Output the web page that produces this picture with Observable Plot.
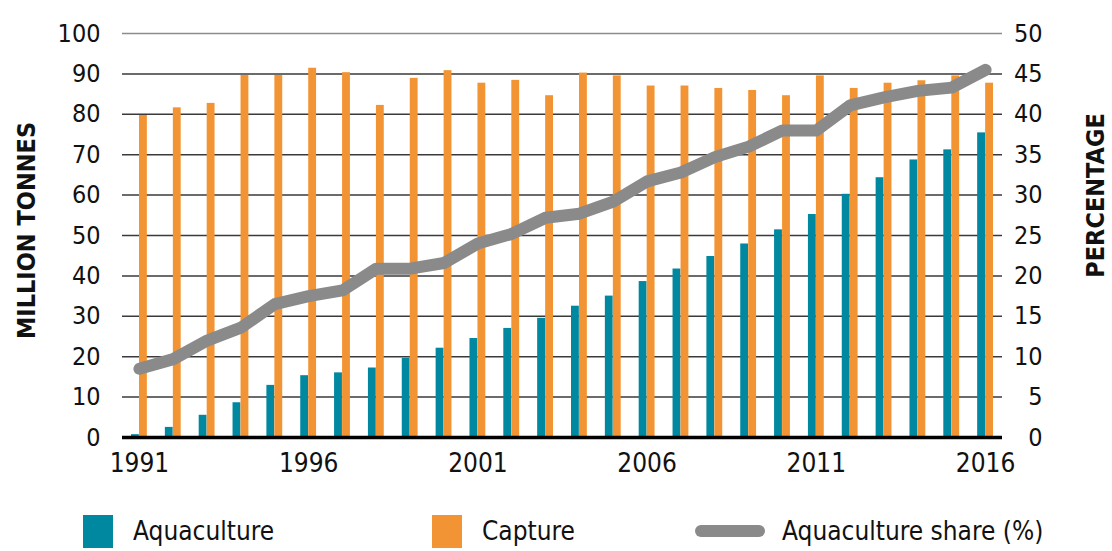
<!DOCTYPE html>
<html><head><meta charset="utf-8">
<script src="https://cdn.jsdelivr.net/npm/d3@7"></script>
<script src="https://cdn.jsdelivr.net/npm/@observablehq/plot@0.6"></script>
<style>
body{margin:0;background:#fff;font-family:"DejaVu Sans Condensed","Liberation Sans Narrow",sans-serif;}
#wrap{position:relative;width:1112px;height:551px;overflow:hidden;}
.leg{position:absolute;top:513px;height:36px;display:flex;align-items:center;font-size:26px;color:#111;white-space:nowrap;}
.sw{display:inline-block;width:30px;height:33px;margin-right:20px;}
.ln{display:inline-block;width:70px;height:12px;border-radius:6px;background:#8a8a8a;margin-right:17px;}
</style></head>
<body><div id="wrap"><div id="chart"></div>
<div class="leg" style="left:83px"><span class="sw" style="background:#0088a1"></span><span>Aquaculture</span></div>
<div class="leg" style="left:432px"><span class="sw" style="background:#f29433"></span><span>Capture</span></div>
<div class="leg" style="left:695px"><span class="ln"></span><span>Aquaculture share (%)</span></div>
</div>
<script>
const years = [1991,1992,1993,1994,1995,1996,1997,1998,1999,2000,2001,2002,2003,2004,2005,2006,2007,2008,2009,2010,2011,2012,2013,2014,2015,2016];
const aquaculture = [0.7,2.5,5.5,8.6,12.9,15.3,16.0,17.2,19.6,22.1,24.5,27.0,29.5,32.5,35.0,38.6,41.7,44.8,47.9,51.4,55.2,60.2,64.3,68.7,71.2,75.4];
const capture = [79.7,81.6,82.7,89.6,89.6,91.4,90.3,82.2,88.9,90.8,87.7,88.4,84.6,90.2,89.5,87.0,87.0,86.4,85.9,84.6,89.5,86.4,87.7,88.3,89.5,87.7];
const share = [8.5,9.7,12.0,13.6,16.5,17.5,18.2,20.9,20.9,21.6,24.0,25.2,27.2,27.7,29.2,31.7,32.8,34.7,36.0,38.0,38.0,41.1,42.1,42.9,43.3,45.5];
const yearTicks = [1991,1996,2001,2006,2011,2016];
const leftTicks = [0,10,20,30,40,50,60,70,80,90,100];
const rightTicks = [0,5,10,15,20,25,30,35,40,45,50];

const rows = years.map((year, i) => ({year, aquaculture: aquaculture[i], capture: capture[i], share: share[i]}));
const FONT = '"DejaVu Sans Condensed","Liberation Sans Narrow",sans-serif';
const TEAL = "#0088a1", ORANGE = "#f29433", GRAY = "#8a8a8a";

const chart = Plot.plot({
  width: 1112, height: 490,
  marginTop: 33, marginBottom: 53, marginLeft: 122, marginRight: 110,
  style: {fontFamily: FONT, background: "white", color: "#111", overflow: "visible"},
  x: {type: "band", domain: years, padding: 0, round: false, label: null},
  y: {domain: [0, 100], label: null},
  marks: [
    Plot.ruleY(leftTicks.filter(d => d > 0 && d < 100), {stroke: "#3a3a3a", strokeWidth: 1.5}),
    Plot.ruleY([100], {stroke: "#8c8c8c", strokeWidth: 1.5}),
    Plot.barY(rows, {x: "year", y: "aquaculture", fill: TEAL, insetLeft: 9, insetRight: 17}),
    Plot.barY(rows, {x: "year", y: "capture", fill: ORANGE, insetLeft: 17, insetRight: 9}),
    Plot.ruleY([0], {stroke: "#000", strokeWidth: 3.5}),
    Plot.line(rows, {x: "year", y: d => d.share * 2, stroke: GRAY, strokeWidth: 12, strokeLinecap: "round", strokeLinejoin: "round"}),
    Plot.axisX({ticks: yearTicks, tickFormat: d => String(d), tickSize: 0, tickPadding: 16, fontSize: 26, label: null}),
    Plot.axisY({anchor: "left", ticks: leftTicks, tickSize: 0, tickPadding: 22, fontSize: 25, label: null}),
    Plot.axisY({anchor: "right", ticks: leftTicks, tickFormat: d => rightTicks[leftTicks.indexOf(d)], tickSize: 0, tickPadding: 40, textAnchor: "end", fontSize: 25, label: null}),
    Plot.text(["MILLION TONNES"], {frameAnchor: "left", textAnchor: "middle", rotate: -90, dx: -96, dy: -5, fontSize: 25, fontWeight: "bold"}),
    Plot.text(["PERCENTAGE"], {frameAnchor: "right", textAnchor: "middle", rotate: -90, dx: 93, dy: -40, fontSize: 25, fontWeight: "bold"})
  ]
});
document.getElementById("chart").appendChild(chart);
</script>
</body></html>
